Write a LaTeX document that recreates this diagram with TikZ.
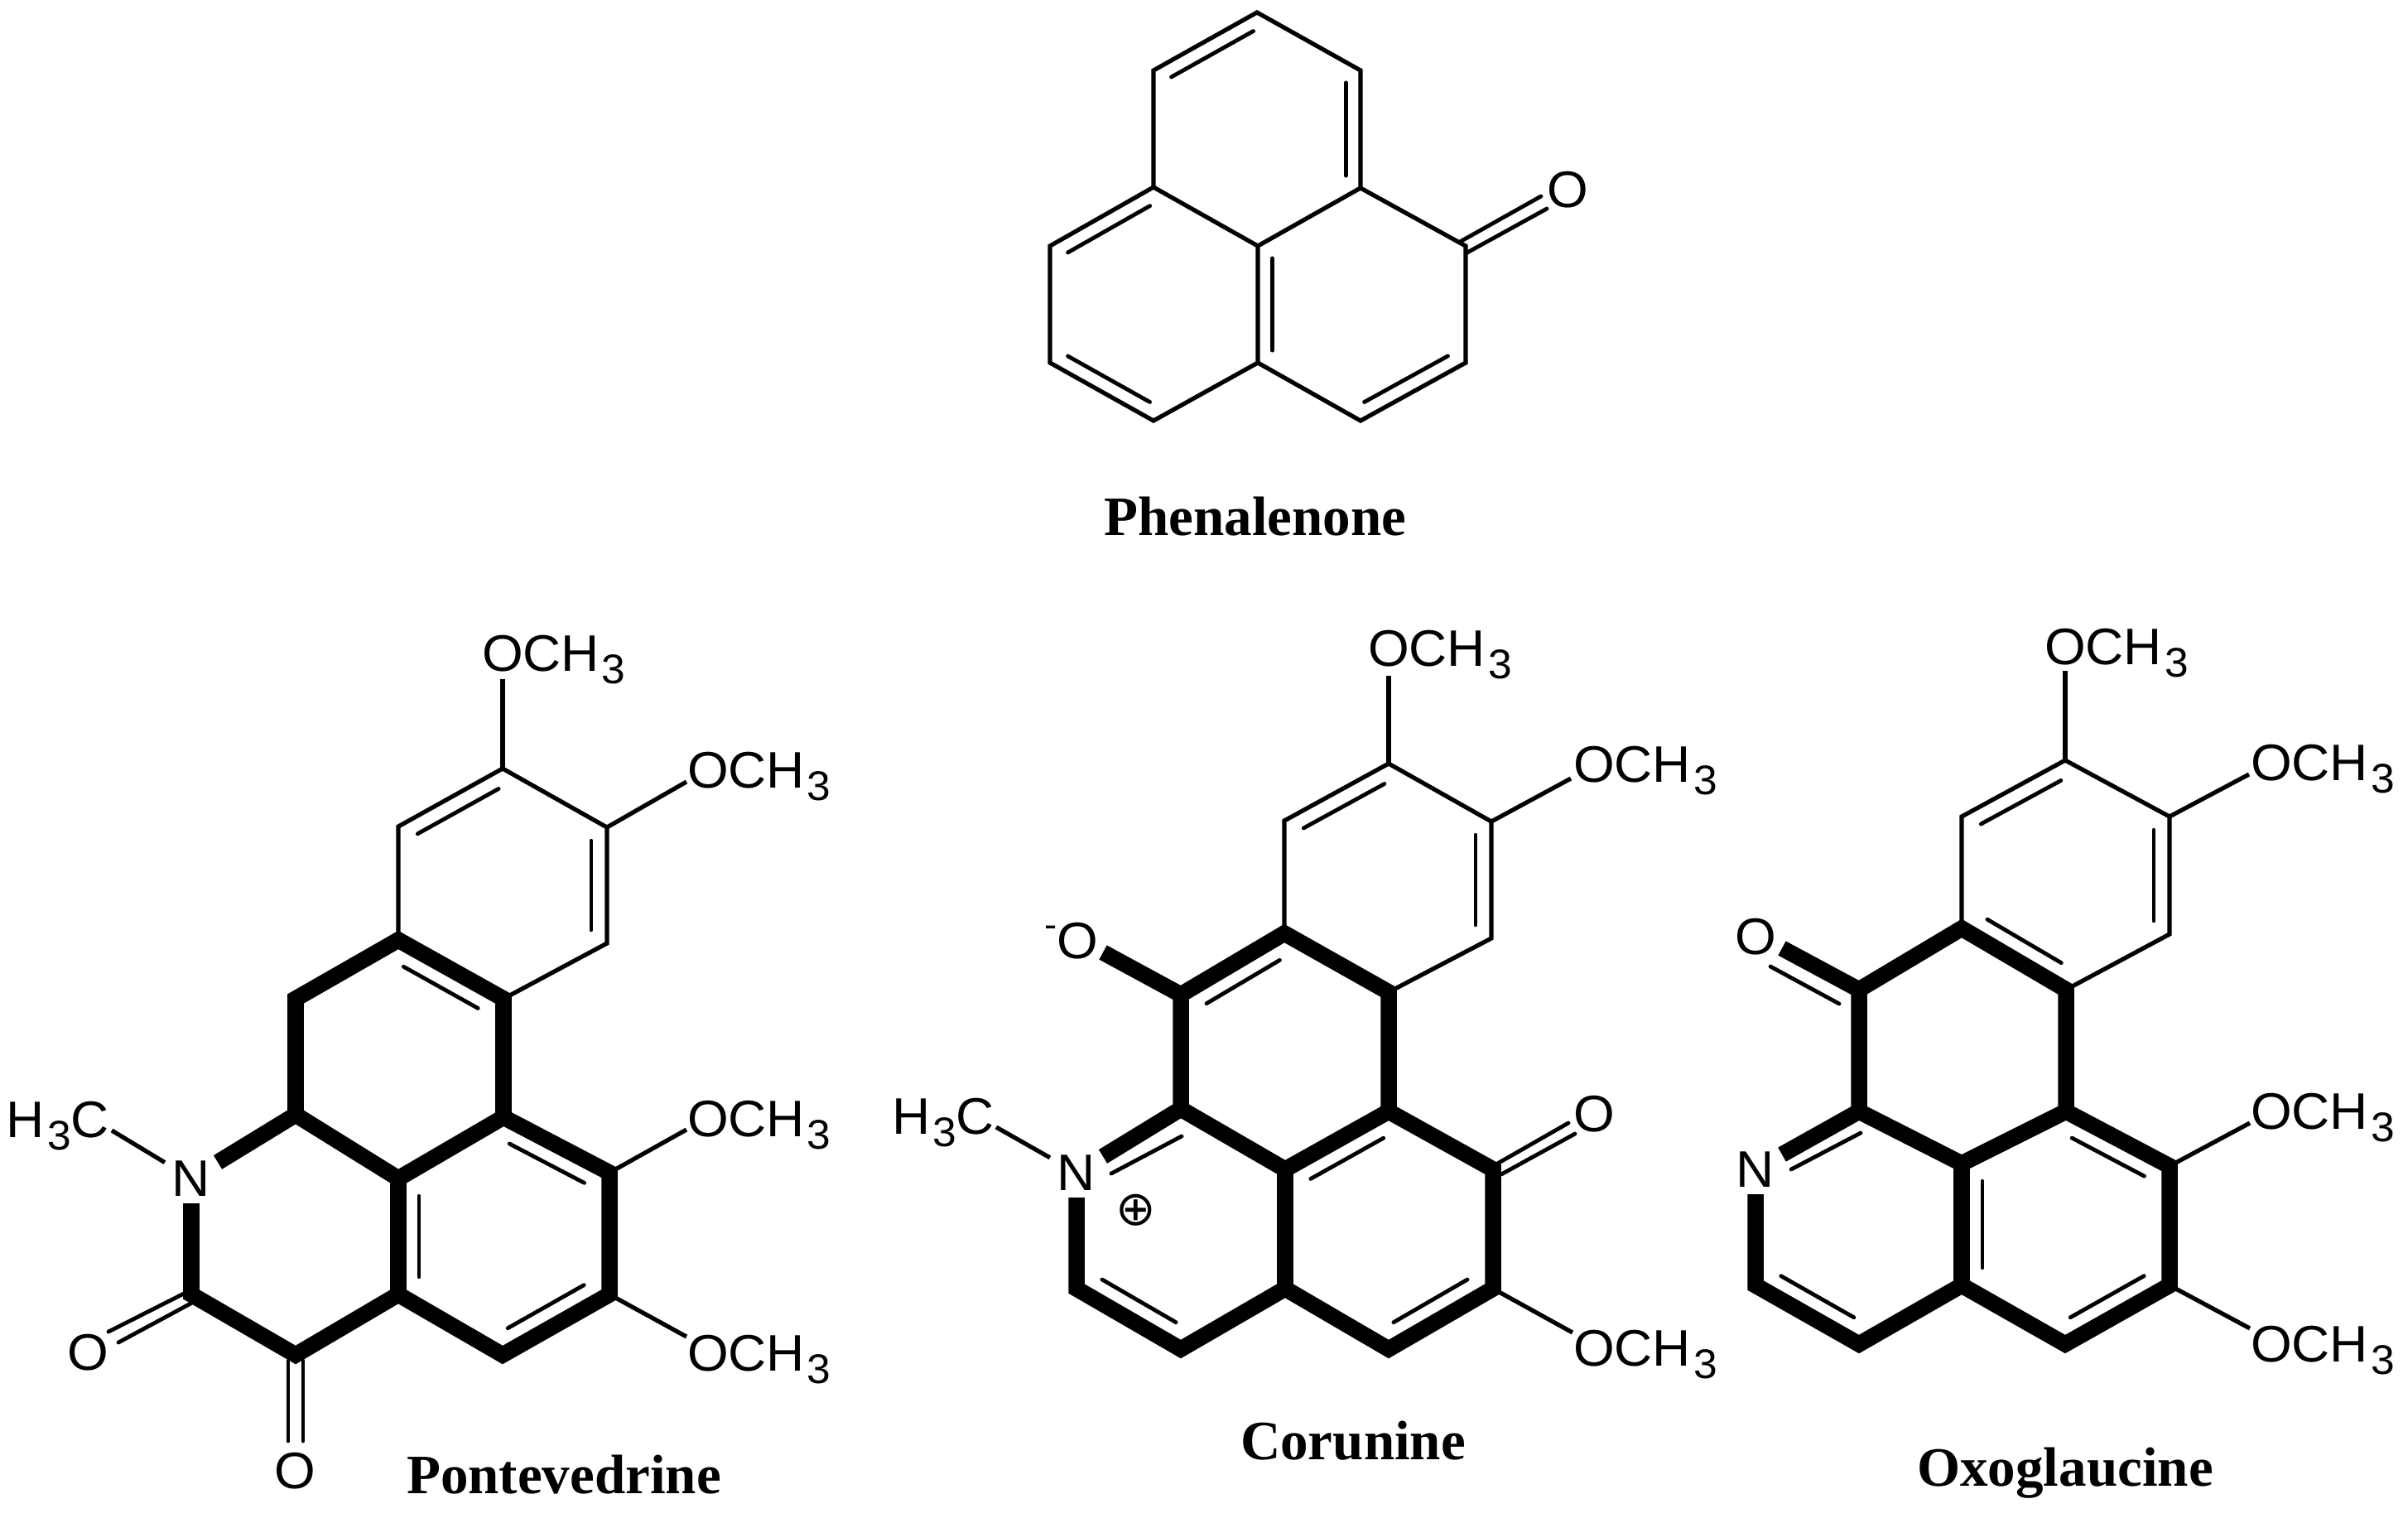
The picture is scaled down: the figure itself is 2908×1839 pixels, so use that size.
\documentclass[tikz,border=0pt]{standalone}
\usepackage{fontspec}
\usetikzlibrary{calc}
\newfontfamily\chemfont[FakeStretch=1.03]{Liberation Sans}
\newfontfamily\namefont{Liberation Serif}
\newfontfamily\chemsymbol{DejaVu Sans}
\newcommand{\chemsub}[1]{\kern.03cm\raisebox{-.15cm}{\fontsize{.5cm}{.5cm}\selectfont #1}}
\newcommand{\inbond}[3][.19cm]{\draw[innerb,shorten >=.85*#1,shorten <=.85*#1] ($(#2)!#1!90:(#3)$) -- ($(#3)!#1!-90:(#2)$);}
\tikzset{
  thinb/.style={line width=.052cm,line join=miter,line cap=butt},
  thickb/.style={line width=.195cm,line join=miter,line cap=butt,miter limit=10},
  innerb/.style={line width=.048cm,line cap=round},
  chem/.style={font=\chemfont\fontsize{.62cm}{.7cm}\selectfont,inner sep=0pt,outer sep=0pt},
  hetero/.style={chem,minimum width=.64cm,minimum height=.6cm},
  molname/.style={font=\namefont\bfseries\fontsize{.67cm}{.8cm}\selectfont,inner sep=0pt}
}
\begin{document}
\begin{tikzpicture}[x=.01cm,y=-.01cm]
\useasboundingbox (0,0) rectangle (2908,1839);
% ---------- Phenalenone
\foreach \n/\x/\y in {T/1518/15,a/1393/85,b/1643/85,c/1393/226,d/1643/227,e/1519/297,f/1268/297,g/1268/438,h/1519/438,i/1393/508,j/1643/508,k/1770/438,l/1770/297}
  \coordinate (f\n) at (\x,\y);
\coordinate (fo1a) at (1763,292); \coordinate (fo1b) at (1861,237);
\coordinate (fo2a) at (1770,306); \coordinate (fo2b) at (1868,252);
\node[chem] (fO) at (1893,229) {O};
\draw[thinb] (fc) -- (fa) -- (fT) -- (fb) -- (fd) -- (fe) -- (fc) -- (ff) -- (fg) -- (fi) -- (fh) -- (fe);
\draw[thinb] (fh) -- (fj) -- (fk) -- (fl) -- (fd);
\inbond[.175cm]{fT}{fa}
\inbond[.175cm]{fd}{fb}
\inbond[.175cm]{fc}{ff}
\inbond[.175cm]{fe}{fh}
\inbond[.175cm]{fg}{fi}
\inbond[.175cm]{fj}{fk}
\draw[innerb] (fo1a) -- (fo1b);
\draw[innerb] (fo2a) -- (fo2b);
\node[molname] (fname) at (1516,624) {Phenalenone};
% ---------- Pontevedrine
\foreach \n/\x/\y in {A/607/928,B/733/999,C/733/1139,D/608/1206,E/481/1135,F/481/998,G/357/1206,H/357/1346,I/608/1349,J/481/1423,K/736/1416,L/736/1563,M/607/1636,R/481/1563,P/357/1636,Q/231/1563}
  \coordinate (p\n) at (\x,\y);
\node[hetero] (pN) at (231,1423) {N};
\node[chem] (pO1) at (106,1633) {O};
\node[chem] (pO2) at (356,1776) {O};
\node[chem,anchor=base west] (pMe) at (8,1373) {H\chemsub{3}C};
\coordinate (pMeb) at (135,1365);
\node[chem,anchor=base west] (pa) at (582,810) {OCH\chemsub{3}};
\node[chem,anchor=base west] (pb) at (830,951) {OCH\chemsub{3}};
\node[chem,anchor=base west] (pc) at (830,1372) {OCH\chemsub{3}};
\node[chem,anchor=base west] (pd) at (830,1655) {OCH\chemsub{3}};
\coordinate (pae) at (607,820); \coordinate (pbe) at (829,944);
\coordinate (pce) at (829,1364); \coordinate (pde) at (829,1614);
\coordinate (po1a) at (222,1562); \coordinate (po1b) at (131,1608);
\coordinate (po2a) at (232,1573); \coordinate (po2b) at (143,1621);
\coordinate (po3a) at (348,1643); \coordinate (po3b) at (348,1740);
\coordinate (po4a) at (366,1643); \coordinate (po4b) at (366,1740);
\draw[thinb] (pE) -- (pF) -- (pA) -- (pB) -- (pC) -- (pD);
\draw[thinb] (pA) -- (pae);
\draw[thinb] (pB) -- (pbe);
\draw[thinb] (pK) -- (pce);
\draw[thinb] (pL) -- (pde);
\draw[thinb] (pMeb) -- (pN);
\draw[thickb] (pN) -- (pH) -- (pG) -- (pE) -- (pD) -- (pI) -- (pK) -- (pL) -- (pM) -- (pR) -- (pP) -- (pQ) -- (pN);
\draw[thickb] (pH) -- (pJ) -- (pI);
\draw[thickb] (pJ) -- (pR);
\inbond{pA}{pF}
\inbond{pC}{pB}
\inbond[.25cm]{pD}{pE}
\inbond[.25cm]{pK}{pI}
\inbond[.25cm]{pM}{pL}
\inbond[.25cm]{pJ}{pR}
\draw[innerb] (po1a) -- (po1b);
\draw[innerb] (po2a) -- (po2b);
\draw[innerb] (po3a) -- (po3b);
\draw[innerb] (po4a) -- (po4b);
\node[molname] (pname) at (681,1781) {Pontevedrine};
% ---------- Corunine
\foreach \n/\x/\y in {A/1677/922,B/1801/992,C/1801/1133,D/1677/1198,E/1551/1127,F/1551/991,G/1426/1201,H/1426/1339,I/1677/1342,J/1552/1412,K/1803/1412,L/1803/1556,M/1677/1629,R/1552/1556,P/1426/1629,Q/1300/1556}
  \coordinate (c\n) at (\x,\y);
\node[hetero] (cN) at (1300,1416) {N};
\node[chem,anchor=base east] (cOm) at (1326,1157) {\raisebox{.25cm}{\fontsize{.44cm}{.5cm}\selectfont -}O};
\coordinate (cOmb) at (1332,1150);
\node[chem] (cO) at (1925,1345) {O};
\node[chem,font=\chemsymbol\fontsize{.58cm}{.6cm}\selectfont] (cplus) at (1372,1461) {⊕};
\node[chem,anchor=base west] (cMe) at (1077,1369) {H\chemsub{3}C};
\coordinate (cMeb) at (1203,1361);
\node[chem,anchor=base west] (ca) at (1652,804) {OCH\chemsub{3}};
\node[chem,anchor=base west] (cb) at (1900,944) {OCH\chemsub{3}};
\node[chem,anchor=base west] (cc) at (1900,1649) {OCH\chemsub{3}};
\coordinate (cae) at (1677,816); \coordinate (cbe) at (1897,940); \coordinate (cce) at (1899,1609);
\coordinate (co1a) at (1803,1408); \coordinate (co1b) at (1894,1356);
\coordinate (co2a) at (1813,1418); \coordinate (co2b) at (1902,1369);
\coordinate (cni1) at (1342,1417); \coordinate (cni2) at (1427,1372);
\draw[thinb] (cE) -- (cF) -- (cA) -- (cB) -- (cC) -- (cD);
\draw[thinb] (cA) -- (cae);
\draw[thinb] (cB) -- (cbe);
\draw[thinb] (cL) -- (cce);
\draw[thinb] (cMeb) -- (cN);
\draw[thickb] (cOmb) -- (cG) -- (cE) -- (cD) -- (cI) -- (cK) -- (cL) -- (cM) -- (cR) -- (cP) -- (cQ) -- (cN);
\draw[thickb] (cG) -- (cH) -- (cJ) -- (cI);
\draw[thickb] (cN) -- (cH);
\draw[thickb] (cJ) -- (cR);
\inbond{cA}{cF}
\inbond{cC}{cB}
\inbond[.25cm]{cE}{cG}
\inbond[.25cm]{cI}{cJ}
\inbond[.25cm]{cM}{cL}
\inbond[.25cm]{cQ}{cP}
\draw[innerb] (cni1) -- (cni2);
\draw[innerb] (co1a) -- (co1b);
\draw[innerb] (co2a) -- (co2b);
\node[molname] (cname) at (1634,1740) {Corunine};
% ---------- Oxoglaucine
\foreach \n/\x/\y in {A/2494/918,B/2620/986,C/2620/1128,D/2495/1195,E/2369/1121,F/2369/986,G/2245/1195,H/2245/1342,I/2495/1342,J/2369/1405,K/2620/1408,L/2620/1552,M/2494/1623,R/2369/1552,P/2245/1623,Q/2120/1552}
  \coordinate (x\n) at (\x,\y);
\node[hetero] (xN) at (2120,1412) {N};
\node[chem] (xO) at (2120,1131) {O};
\coordinate (xOb) at (2152,1145);
\node[chem,anchor=base west] (xa) at (2469,802) {OCH\chemsub{3}};
\node[chem,anchor=base west] (xb) at (2718,942) {OCH\chemsub{3}};
\node[chem,anchor=base west] (xc) at (2718,1363) {OCH\chemsub{3}};
\node[chem,anchor=base west] (xd) at (2718,1644) {OCH\chemsub{3}};
\coordinate (xae) at (2494,810); \coordinate (xbe) at (2716,935);
\coordinate (xce) at (2717,1356); \coordinate (xde) at (2717,1604);
\coordinate (xo1) at (2138,1167); \coordinate (xo2) at (2221,1212);
\coordinate (xn1) at (2163,1412); \coordinate (xn2) at (2247,1368);
\draw[thinb] (xE) -- (xF) -- (xA) -- (xB) -- (xC) -- (xD);
\draw[thinb] (xA) -- (xae);
\draw[thinb] (xB) -- (xbe);
\draw[thinb] (xK) -- (xce);
\draw[thinb] (xL) -- (xde);
\draw[thickb] (xOb) -- (xG) -- (xE) -- (xD) -- (xI) -- (xK) -- (xL) -- (xM) -- (xR) -- (xP) -- (xQ) -- (xN);
\draw[thickb] (xG) -- (xH) -- (xJ) -- (xI);
\draw[thickb] (xN) -- (xH);
\draw[thickb] (xJ) -- (xR);
\inbond{xA}{xF}
\inbond{xC}{xB}
\inbond[.25cm]{xE}{xD}
\inbond[.25cm]{xK}{xI}
\inbond[.25cm]{xM}{xL}
\inbond[.25cm]{xJ}{xR}
\inbond[.25cm]{xQ}{xP}
\draw[innerb] (xo1) -- (xo2);
\draw[innerb] (xn1) -- (xn2);
\node[molname] (xname) at (2494,1779) {Oxoglaucine};
\end{tikzpicture}
\end{document}
